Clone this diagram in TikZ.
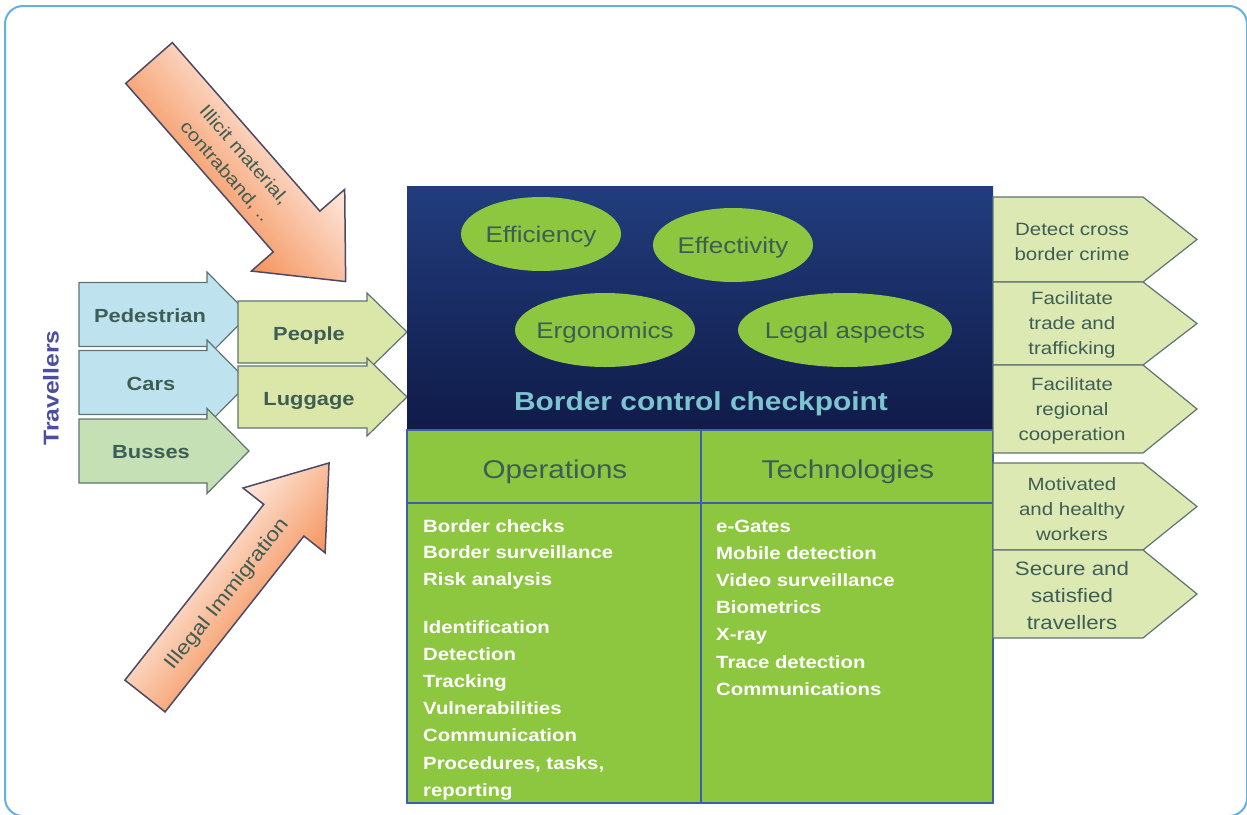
\documentclass[tikz,border=0pt]{standalone}
\usepackage{fontspec}
\setmainfont[FakeStretch=1.15]{Liberation Sans}
\usetikzlibrary{shapes.geometric}

\definecolor{navytop}{HTML}{223D7E}
\definecolor{navybot}{HTML}{101B48}
\definecolor{limegreen}{HTML}{8DC63F}
\definecolor{gridblue}{HTML}{3F5DA8}
\definecolor{paleblue}{HTML}{BFE3EE}
\definecolor{palegreen}{HTML}{C6E0B5}
\definecolor{paleyellow}{HTML}{DAE7A8}
\definecolor{palelime}{HTML}{DDE9B3}
\definecolor{edgegrey}{HTML}{5F7470}
\definecolor{slategreen}{HTML}{3E5E55}
\definecolor{titlecyan}{HTML}{7CC5D0}
\definecolor{travpurple}{HTML}{4B4F9E}
\definecolor{orangedeep}{HTML}{F5935A}
\definecolor{orangelight}{HTML}{FDE9DF}
\definecolor{arrowedge}{HTML}{4A4A68}
\definecolor{framecol}{HTML}{62B0E4}

\newcommand{\fsz}[2]{\fontsize{#1}{#2}\selectfont}

\begin{document}
\begin{tikzpicture}[x=1pt, y=-1pt,
  blockarrow/.style={draw=edgegrey, line width=1.2pt},
  armlabel/.style={inner sep=0pt, anchor=base, text=slategreen, font=\fsz{19}{23}\bfseries},
  goallabel/.style={inner sep=0pt, align=center, text=slategreen, font=\fsz{17.8}{25}},
  ellabel/.style={inner sep=0pt, anchor=base, text=slategreen, font=\fsz{22.6}{26}},
  listitem/.style={inner sep=0pt, anchor=base west, text=white, font=\fsz{17.7}{21}\bfseries},
  oarrow/.style={draw=arrowedge, line width=1.5pt, top color=orangelight, bottom color=orangedeep},
  otext/.style={inner sep=0pt, align=center, text=slategreen, font=\fsz{18}{25}}]
\useasboundingbox (0,0) rectangle (1247,814);
\clip (0,0) rectangle (1247,814);
\draw[framecol, line width=2pt, rounded corners=18pt] (5,6) rectangle (1247,816);

% travellers
\node[rotate=90, inner sep=0pt, text=travpurple, font=\fsz{21.5}{24}\bfseries] (trav) at (51,388) {Travellers};
\foreach \yc/\col in {314.5/paleblue, 382.5/paleblue, 451/palegreen}
  \draw[blockarrow, fill=\col] (79,\yc-32) -- (207,\yc-32) -- (207,\yc-42.5) -- (249,\yc)
    -- (207,\yc+42.5) -- (207,\yc+32) -- (79,\yc+32) -- cycle;
\foreach \yc in {332,397}
  \draw[blockarrow, fill=paleyellow] (238,\yc-31) -- (367,\yc-31) -- (367,\yc-39) -- (407,\yc)
    -- (367,\yc+39) -- (367,\yc+31) -- (238,\yc+31) -- cycle;
\node[armlabel] (ped) at (150,322) {Pedestrian};
\node[armlabel] (cars) at (151,390) {Cars};
\node[armlabel] (bus) at (151,458) {Busses};
\node[armlabel] (people) at (309,340) {People};
\node[armlabel] (lug) at (309,405) {Luggage};

% threats
\begin{scope}[transform canvas={shift={(149,63)}, rotate=-48.8}]
  \draw[oarrow] (0,-31) -- (224,-31) -- (224,-64) -- (294,-4) -- (224,60) -- (224,31) -- (0,31) -- cycle;
  \node[otext] (illicit) at (132,2) {Illicit material,\\contraband, ..};
\end{scope}
\begin{scope}[transform canvas={shift={(145,696)}, rotate=51.7}]
  \draw[oarrow] (0,-25.6) -- (224,-25.6) -- (224,-52) -- (297,0) -- (224,52.6) -- (224,25.6) -- (0,25.6) -- cycle;
  \node[otext, font=\fsz{20}{24}] (illegal) at (131,2) {Illegal Immigration};
\end{scope}

% checkpoint
\shade[top color=navytop, bottom color=navybot] (407,186) rectangle (993,430);
\draw[gridblue, line width=1.5pt, fill=limegreen] (407,430) rectangle (993,803);
\draw[gridblue, line width=1.2pt] (407,503) -- (993,503) (701,430) -- (701,803);
\fill[limegreen] (541,234) ellipse [x radius=80, y radius=37];
\fill[limegreen] (733,245) ellipse [x radius=80, y radius=37];
\fill[limegreen] (605,330) ellipse [x radius=90, y radius=37];
\fill[limegreen] (845,330) ellipse [x radius=107, y radius=37];
\node[ellabel] (eff) at (541,242) {Efficiency};
\node[ellabel] (effv) at (733,253) {Effectivity};
\node[ellabel] (ergo) at (605,338) {Ergonomics};
\node[ellabel] (legal) at (845,338) {Legal aspects};
\node[anchor=base, inner sep=0pt, text=titlecyan, font=\fsz{26}{30}\bfseries] (bcc) at (701,410) {Border control checkpoint};
\node[anchor=base, inner sep=0pt, text=slategreen, font=\fsz{25.7}{30}] (ops) at (555,478) {Operations};
\node[anchor=base, inner sep=0pt, text=slategreen, font=\fsz{25.7}{30}] (tech) at (848,478) {Technologies};
\foreach \t [count=\i] in {Border checks, Border surveillance, Risk analysis}
  \node[listitem] (opa\i) at (423,{532+26.9*(\i-1)}) {\t};
\foreach \t [count=\i] in {Identification, Detection, Tracking, Vulnerabilities, Communication, {Procedures, tasks,}, reporting}
  \node[listitem] (opb\i) at (423,{633+27.2*(\i-1)}) {\t};
\foreach \t [count=\i] in {e-Gates, Mobile detection, Video surveillance, Biometrics, X-ray, Trace detection, Communications}
  \node[listitem] (tec\i) at (716,{532+27.2*(\i-1)}) {\t};

% outcomes
\foreach \ya/\yb in {197/282, 282/365, 365/453, 463/550, 550/638}
  \draw[blockarrow, fill=palelime] (993,\ya) -- (1143,\ya) -- (1197,{(\ya+\yb)/2}) -- (1143,\yb) -- (993,\yb) -- cycle;
\node[goallabel] (crime) at (1072,242) {Detect cross\\border crime};
\node[goallabel] (trade) at (1072,325) {Facilitate\\trade and\\trafficking};
\node[goallabel] (region) at (1072,411) {Facilitate\\regional\\cooperation};
\node[goallabel] (workers) at (1072,509) {Motivated\\and healthy\\workers};
\node[goallabel, font=\fsz{19.4}{27}] (secure) at (1072,596) {Secure and\\satisfied\\travellers};
\end{tikzpicture}
\end{document}
